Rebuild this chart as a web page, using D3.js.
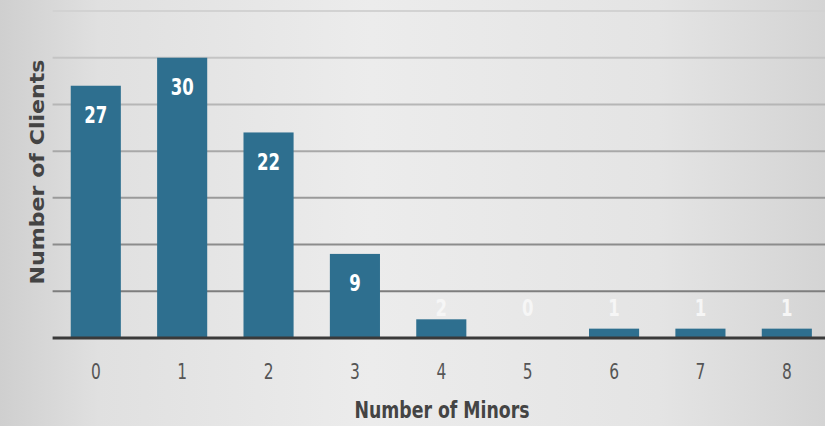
<!DOCTYPE html>
<html><head><meta charset="utf-8">
<script src="https://cdn.jsdelivr.net/npm/d3@7"></script>
<style>html,body{margin:0;padding:0;background:#e6e6e6;}svg{display:block;}
.cond{font-family:'DejaVu Sans Condensed','DejaVu Sans',sans-serif;}
</style>
</head><body>
<svg id="c" width="825" height="426"></svg>
<script>
const categories = ["0","1","2","3","4","5","6","7","8"];
const values = [27, 30, 22, 9, 2, 0, 1, 1, 1];
const yTicks = [5, 10, 15, 20, 25, 30, 35];
const xTitle = "Number of Minors";
const yTitle = "Number of Clients";

const W = 825, H = 426;
const svg = d3.select("#c");
const defs = svg.append("defs");
const bg = defs.append("linearGradient").attr("id","bg").attr("x1","0").attr("x2","1").attr("y1","0").attr("y2","0");
bg.append("stop").attr("offset","0").attr("stop-color","#cfcfcf");
bg.append("stop").attr("offset","0.12").attr("stop-color","#e0e0e0");
bg.append("stop").attr("offset","0.45").attr("stop-color","#ececec");
bg.append("stop").attr("offset","0.8").attr("stop-color","#e4e4e4");
bg.append("stop").attr("offset","1").attr("stop-color","#d4d4d4");
svg.append("rect").attr("width",W).attr("height",H).attr("fill","url(#bg)");

const x0 = 52.6, x1 = 830, baseY = 338;
const x = d3.scaleBand().domain(categories).range([x0, x1]).paddingInner(0.42).paddingOuter(0.21);
const y = d3.scaleLinear().domain([0, 35]).range([baseY, 11]);
const gridCol = d3.scaleLinear().domain([5, 35]).range(["#7e7e7e", "#d2d2d2"]);

svg.append("g").selectAll("line").data(yTicks).join("line")
  .attr("x1", x0).attr("x2", W)
  .attr("y1", d => y(d)).attr("y2", d => y(d))
  .attr("stroke", d => gridCol(d)).attr("stroke-width", 2);

svg.append("g").selectAll("rect").data(values).join("rect")
  .attr("x", (d,i) => x(categories[i]))
  .attr("width", x.bandwidth())
  .attr("y", d => y(d))
  .attr("height", d => baseY - y(d))
  .attr("fill", "#2e6f8f");

const xAxis = d3.axisBottom(x).tickSize(0).tickPadding(0);
const gx = svg.append("g").attr("transform", `translate(0,${baseY})`).call(xAxis);
gx.select(".domain").remove();
gx.selectAll("text").attr("class","cond").attr("font-family", null)
  .attr("y", null).attr("dy", null)
  .attr("transform", "translate(0,41) scale(0.78,1)")
  .attr("font-size", 22).attr("fill", "#555");
svg.append("line").attr("x1", x0).attr("x2", W).attr("y1", baseY).attr("y2", baseY)
  .attr("stroke", "#3a3a3a").attr("stroke-width", 3);

svg.append("g").selectAll("text").data(values).join("text")
  .attr("class","cond")
  .attr("transform", (d,i) => `translate(${x(categories[i]) + x.bandwidth()/2},${Math.min(y(d) + 29, baseY - 30)}) scale(0.8,1)`)
  .attr("dy", "0.36em")
  .attr("text-anchor", "middle")
  .attr("font-weight", "bold").attr("font-size", 23)
  .attr("fill", d => d >= 5 ? "#ffffff" : "#f6f6f6")
  .text(d => d);

svg.append("text").attr("class","cond").attr("x", 442).attr("y", 410).attr("dy","0.36em")
  .attr("text-anchor","middle")
  .attr("font-weight","bold").attr("font-size", 23).attr("fill","#444")
  .attr("textLength", 175).attr("lengthAdjust","spacingAndGlyphs")
  .text(xTitle);
svg.append("text").attr("transform","translate(37,172) rotate(-90)").attr("dy","0.36em")
  .attr("text-anchor","middle")
  .attr("font-family","'DejaVu Sans',sans-serif")
  .attr("font-weight","bold").attr("font-size", 19).attr("fill","#444")
  .attr("textLength", 225).attr("lengthAdjust","spacingAndGlyphs")
  .text(yTitle);
</script>
</body></html>
